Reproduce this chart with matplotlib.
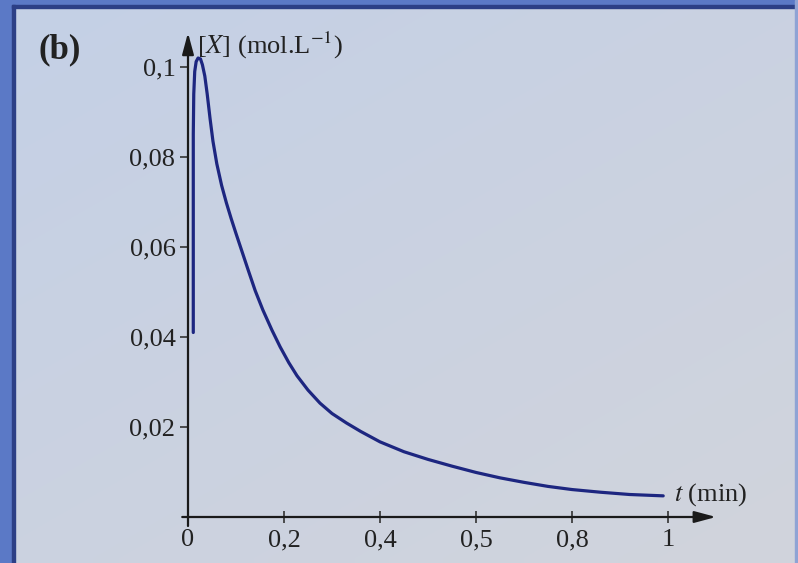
import matplotlib
matplotlib.use("Agg")
import matplotlib.pyplot as plt
import numpy as np
from matplotlib.patches import Rectangle

plt.rcParams['font.family'] = ['Liberation Serif', 'DejaVu Serif']
plt.rcParams['mathtext.fontset'] = 'stix'

# ---- data ----
t_values = [0.011, 0.011, 0.012, 0.014, 0.017, 0.021, 0.026, 0.030, 0.035, 0.040,
            0.046, 0.052, 0.060, 0.070, 0.080, 0.090, 0.100, 0.110, 0.125, 0.140,
            0.156, 0.175, 0.192, 0.210, 0.227, 0.250, 0.275, 0.300, 0.330, 0.360,
            0.400, 0.450, 0.500, 0.550, 0.600, 0.650, 0.700, 0.750, 0.800, 0.860,
            0.920, 0.990]
x_conc = [0.041, 0.085, 0.094, 0.099, 0.1012, 0.1020, 0.1018, 0.1005, 0.098, 0.094,
          0.0885, 0.0835, 0.0785, 0.0737, 0.0698, 0.0663, 0.0630, 0.0598, 0.0550, 0.0503,
          0.0460, 0.0415, 0.0378, 0.0343, 0.0314, 0.0282, 0.0253, 0.0230, 0.0209, 0.0190,
          0.0167, 0.0145, 0.0128, 0.0113, 0.0099, 0.0087, 0.0077, 0.0068, 0.0061, 0.0055,
          0.0050, 0.0047]
x_ticks = [0, 0.2, 0.4, 0.6, 0.8, 1.0]
x_tick_labels = ["0", "0,2", "0,4", "0,5", "0,8", "1"]
y_ticks = [0.02, 0.04, 0.06, 0.08, 0.1]
y_tick_labels = ["0,02", "0,04", "0,06", "0,08", "0,1"]

W, H = 798, 563
fig = plt.figure(figsize=(W / 100, H / 100), dpi=100)
fig.patch.set_facecolor('#cbd4e4')

# soft background gradient (bluish top-left -> greyish bottom-right)
bgax = fig.add_axes([0, 0, 1, 1], zorder=-10)
bgax.set_axis_off()
gy, gx = np.mgrid[0:1:60j, 0:1:80j]
w = np.clip(0.55 * gy + 0.45 * gx, 0, 1)[..., None]
c1 = np.array([0xc4, 0xd0, 0xe6]) / 255
c2 = np.array([0xd1, 0xd4, 0xdc]) / 255
bgax.imshow(c1 * (1 - w) + c2 * w, extent=[0, 1, 0, 1], origin='upper', aspect='auto',
            interpolation='bilinear')
bgax.set_xlim(0, 1)
bgax.set_ylim(0, 1)

# border
def rect(x0, y0, w_, h_, c):
    fig.patches.append(Rectangle((x0 / W, 1 - (y0 + h_) / H), w_ / W, h_ / H,
                                 transform=fig.transFigure, color=c, zorder=5))
rect(0, 0, 12, H, '#5b79c6')
rect(0, 0, W, 5, '#5b79c6')
rect(12, 5, 2.5, H, '#2c3f86')
rect(12, 5, W, 2.5, '#2c3f86')
rect(W - 3, 0, 3, H, '#8fa3d4')

ox, oy = 188, 517
xmax, ymax = 1.10, 0.1076
ax = fig.add_axes([ox / W, (H - oy) / H, (xmax * 480) / W, (ymax * 4500) / H])
ax.set_facecolor('none')
ax.set_xlim(0, xmax)
ax.set_ylim(0, ymax)
for s in ax.spines.values():
    s.set_visible(False)

arrow_kw = dict(arrowstyle='-|>,head_length=1.3,head_width=0.35', color='#1a1a1a', lw=1.6,
                shrinkA=0, shrinkB=0)
ax.annotate('', xy=(xmax, 0), xytext=(-0.012, 0), xycoords='data', arrowprops=arrow_kw,
            annotation_clip=False)
ax.annotate('', xy=(0, ymax), xytext=(0, -0.002), xycoords='data', arrowprops=arrow_kw,
            annotation_clip=False)

ax.plot(t_values, x_conc, color='#1d2680', lw=2.3, solid_capstyle='round',
        solid_joinstyle='round', zorder=3)

ax.set_xticks(x_ticks)
ax.set_xticklabels(x_tick_labels, fontsize=19)
ax.set_yticks(y_ticks)
ax.set_yticklabels(y_tick_labels, fontsize=19)
ax.tick_params(axis='x', direction='inout', length=8, width=1.2, color='#333333', pad=5,
               labelcolor='#222222')
ax.tick_params(axis='y', direction='out', length=6, width=1.2, color='#333333', pad=3,
               labelcolor='#222222')

fig.text(38 / W, 1 - 50 / H, '(b)', fontsize=25, fontweight='bold', color='#222222',
         va='center', ha='left')
fig.text(197 / W, 1 - 45 / H, r'[$X$] (mol.L$^{-1}$)', fontsize=19, color='#222222',
         va='center', ha='left')
fig.text(674 / W, 1 - 495 / H, r'$t$ (min)', fontsize=19, color='#222222',
         va='center', ha='left')

fig.savefig('out.png', dpi=100, facecolor=fig.get_facecolor())
